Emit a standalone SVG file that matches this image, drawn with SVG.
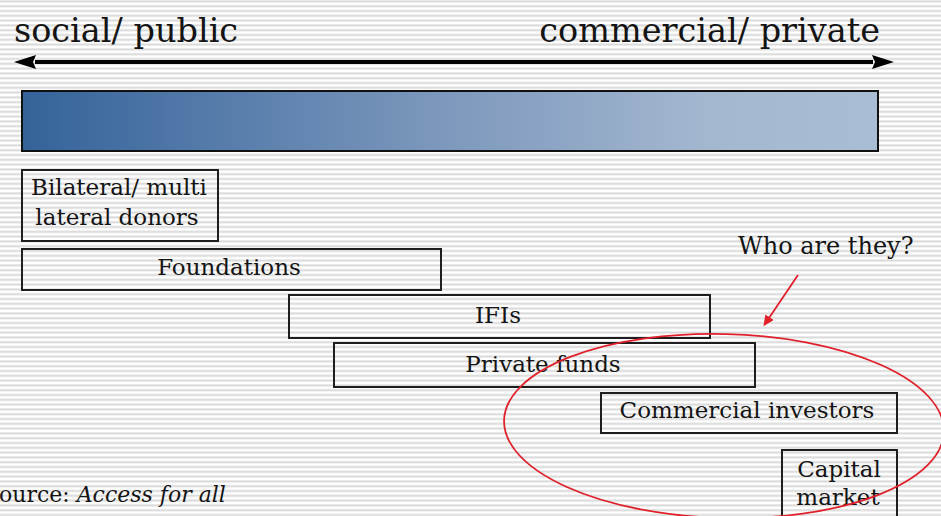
<svg xmlns="http://www.w3.org/2000/svg" width="941" height="516" viewBox="0 0 941 516">
  <defs>
    <pattern id="stripes" x="0" y="0" width="20" height="4.8" patternUnits="userSpaceOnUse">
      <rect x="0" y="0" width="20" height="4.8" fill="#ffffff"/>
      <rect x="0" y="0.4" width="20" height="2" fill="#d9d9d9"/>
    </pattern>
    <linearGradient id="barGrad" x1="0" y1="0" x2="1" y2="0">
      <stop offset="0" stop-color="#34639a"/>
      <stop offset="0.5" stop-color="#7e99bd"/>
      <stop offset="0.8" stop-color="#a3b7cf"/>
      <stop offset="1" stop-color="#a9bdd4"/>
    </linearGradient>
    <marker id="bigHead" markerUnits="userSpaceOnUse" markerWidth="24" markerHeight="14" refX="1" refY="7" orient="auto-start-reverse">
      <path d="M0,0 L22,7 L0,14 L3,7 Z" fill="#000"/>
    </marker>
    <marker id="redHead" markerUnits="userSpaceOnUse" markerWidth="12" markerHeight="10" refX="1" refY="5" orient="auto">
      <path d="M0,0 L11,5 L0,10 Z" fill="#e0202a"/>
    </marker>
    <style>
      .lbl { font-family: "DejaVu Serif", "Liberation Serif", serif; fill: #141414; }
      .axis { font-size: 33.5px; }
      .box-t { font-size: 23px; text-anchor: middle; }
      .box { fill: none; stroke: #1e1e1e; stroke-width: 2; }
      .red { fill: none; stroke: #e0202a; stroke-width: 1.8; }
    </style>
  </defs>

  <rect x="0" y="0" width="941" height="516" fill="url(#stripes)"/>

  <g id="label-social">
    <text class="lbl axis" x="14" y="42">social/ public</text>
  </g>
  <g id="label-commercial">
    <text class="lbl axis" x="880" y="42" text-anchor="end">commercial/ private</text>
  </g>

  <g id="gradient-bar">
    <rect x="22" y="91" width="856" height="60" fill="url(#barGrad)" stroke="#111" stroke-width="2"/>
  </g>

  <g id="node-bilateral">
    <rect class="box" x="22" y="170" width="196" height="71"/>
    <text class="lbl box-t" x="119" y="195">Bilateral/ multi</text>
    <text class="lbl box-t" x="117" y="225">lateral donors</text>
  </g>
  <g id="node-foundations">
    <rect class="box" x="22" y="249" width="419" height="41"/>
    <text class="lbl box-t" x="229" y="275">Foundations</text>
  </g>
  <g id="node-ifis">
    <rect class="box" x="289" y="295" width="421" height="43"/>
    <text class="lbl box-t" x="498" y="323">IFIs</text>
  </g>
  <g id="node-private-funds">
    <rect class="box" x="334" y="343" width="421" height="44"/>
    <text class="lbl box-t" x="543" y="372">Private funds</text>
  </g>
  <g id="node-commercial-investors">
    <rect class="box" x="601" y="393" width="296" height="40"/>
    <text class="lbl box-t" x="747" y="418">Commercial investors</text>
  </g>
  <g id="node-capital-market">
    <rect class="box" x="782" y="450" width="115" height="80"/>
    <text class="lbl box-t" x="839" y="477">Capital</text>
    <text class="lbl box-t" x="838" y="505">market</text>
  </g>

  <g id="label-who">
    <text class="lbl" x="738" y="254" font-size="24">Who are they?</text>
  </g>

  <g id="highlight-ellipse">
    <ellipse class="red" cx="724" cy="426" rx="220" ry="92" transform="rotate(1.5 724 426)"/>
  </g>

  <g id="source">
    <text class="lbl" x="-1" y="502" font-size="22">ource: <tspan font-style="italic">Access for all</tspan></text>
  </g>

  <g id="connectors">
    <line x1="35" y1="62" x2="873" y2="62" stroke="#000" stroke-width="4" marker-start="url(#bigHead)" marker-end="url(#bigHead)"/>
    <line x1="798" y1="275" x2="769" y2="318" class="red" marker-end="url(#redHead)"/>
  </g>
</svg>
